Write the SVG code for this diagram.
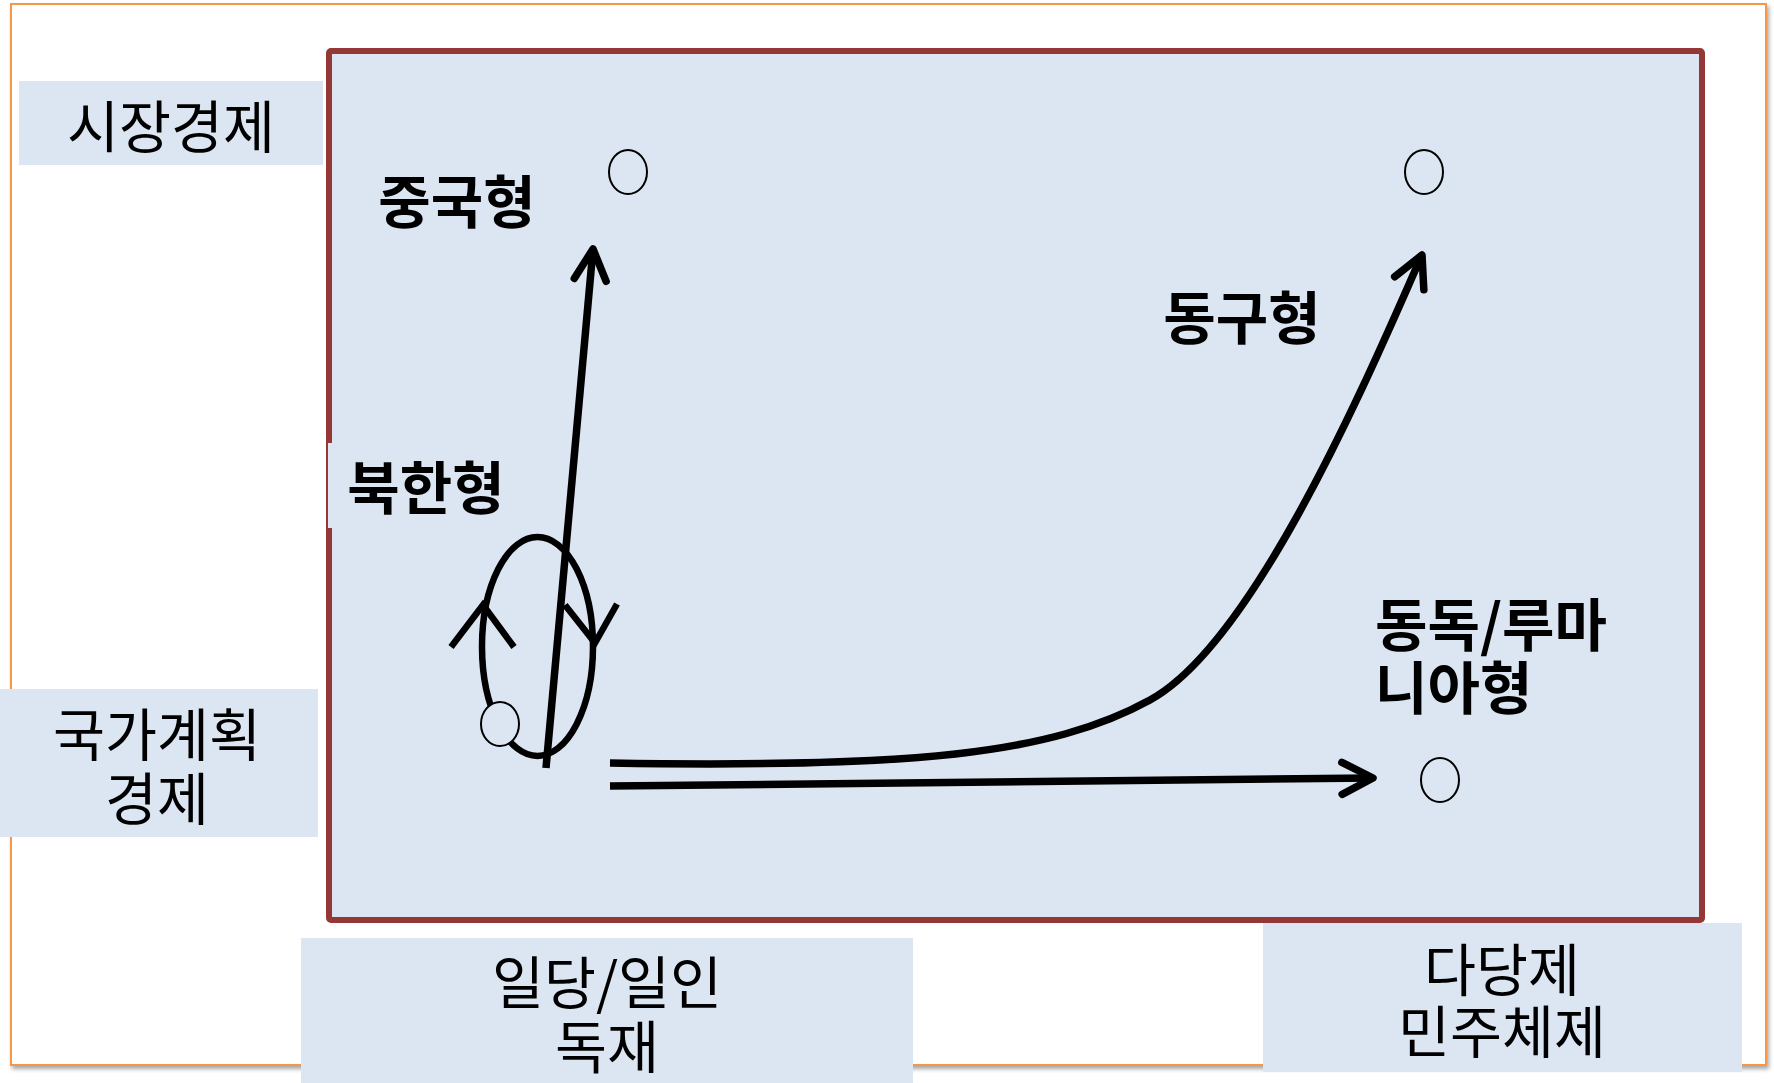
<svg xmlns="http://www.w3.org/2000/svg" width="1774" height="1083" viewBox="0 0 1774 1083">
  <defs>
    <style>
      .axis { fill: #DCE6F2; }
      .axt { font-family: "Noto Sans CJK KR", "Noto Sans", sans-serif; font-size: 56.5px; fill: #000; text-anchor: middle; }
      .typ { font-family: "Noto Sans CJK KR", "Noto Sans", sans-serif; font-size: 57px; font-weight: bold; fill: #000; }
      .pt { fill: #DCE6F2; stroke: #000; stroke-width: 2; }
      .ln { fill: none; stroke: #000; stroke-width: 7.5; stroke-linecap: butt; }
      .cyc { fill: none; stroke: #000; stroke-width: 6.5; }
    </style>
    <filter id="shadow" x="-5%" y="-5%" width="110%" height="110%">
      <feDropShadow dx="2" dy="3" stdDeviation="2" flood-color="#000" flood-opacity="0.35"/>
    </filter>
    <marker id="chev" markerUnits="userSpaceOnUse" viewBox="-40 -22 48 44" refX="0" refY="0" markerWidth="48" markerHeight="44" orient="auto" overflow="visible">
      <path d="M-31,-16 L0,0 L-31,16" fill="none" stroke="#000" stroke-width="7.5" stroke-linecap="round" stroke-linejoin="round"/>
    </marker>
  </defs>

  <rect x="0" y="0" width="1774" height="1083" fill="#fff"/>

  <g id="frame">
    <rect x="11" y="4" width="1755" height="1061" fill="#fff" stroke="#F79646" stroke-width="2" filter="url(#shadow)"/>
  </g>

  <g id="plot">
    <rect x="329" y="51" width="1373" height="869" rx="2" fill="#DCE6F2" stroke="#953735" stroke-width="6"/>
  </g>

  <g id="axis-market">
    <rect class="axis" x="19" y="81" width="304" height="84"/>
    <text class="axt" x="171" y="148">시장경제</text>
  </g>
  <g id="axis-planned">
    <rect class="axis" x="0" y="689" width="318" height="148"/>
    <text class="axt" x="157" y="756">국가계획</text>
    <text class="axt" x="157" y="820">경제</text>
  </g>
  <g id="axis-dictatorship">
    <rect class="axis" x="301" y="938" width="612" height="145"/>
    <text class="axt" x="607" y="1004">일당/일인</text>
    <text class="axt" x="607" y="1068">독재</text>
  </g>
  <g id="axis-democracy">
    <rect class="axis" x="1263" y="923" width="479" height="149"/>
    <text class="axt" x="1502" y="991">다당제</text>
    <text class="axt" x="1502" y="1053">민주체제</text>
  </g>

  <g id="label-nk">
    <rect x="328" y="443" width="190" height="85" fill="#DCE6F2"/>
    <text class="typ" x="426" y="509" text-anchor="middle">북한형</text>
  </g>
  <g id="label-china">
    <text class="typ" x="457" y="223" text-anchor="middle">중국형</text>
  </g>
  <g id="label-eastern">
    <text class="typ" x="1242" y="339" text-anchor="middle">동구형</text>
  </g>
  <g id="label-gdr">
    <text class="typ" x="1375" y="646">동독/루마</text>
    <text class="typ" x="1375" y="709">니아형</text>
  </g>

  <g id="connectors">
    <ellipse class="cyc" cx="537.5" cy="646.5" rx="55.5" ry="109.5"/>
    <polyline class="cyc" points="451,647 483,605 514,647"/>
    <polyline class="cyc" points="565,605 595,643 617,604"/>
    <path class="ln" d="M546,768 L593,249" marker-end="url(#chev)"/>
    <path class="ln" d="M610,786 L1373,778" marker-end="url(#chev)"/>
    <path class="ln" d="M610,763 C911,768 1050,755 1150,700 C1260,640 1381,346 1422,255" marker-end="url(#chev)"/>
  </g>

  <g id="point-nk"><ellipse class="pt" cx="500" cy="724" rx="19" ry="22"/></g>
  <g id="point-china"><ellipse class="pt" cx="628" cy="172" rx="19" ry="22"/></g>
  <g id="point-eastern"><ellipse class="pt" cx="1424" cy="172" rx="19" ry="22"/></g>
  <g id="point-gdr"><ellipse class="pt" cx="1440" cy="780" rx="19" ry="22"/></g>
</svg>
